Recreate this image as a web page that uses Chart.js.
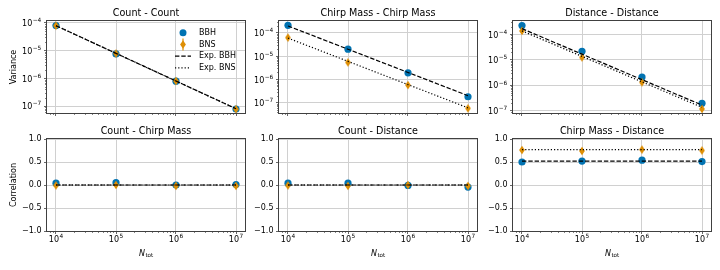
<!DOCTYPE html>
<html><head><meta charset="utf-8">
<script src="https://cdn.jsdelivr.net/npm/chart.js@4"></script>
<style>
html,body{margin:0;padding:0;background:#fff;width:720px;height:270px;overflow:hidden;position:relative}
canvas{position:absolute;display:block}
</style></head><body>
<script>
// ---------------- data ----------------
const N_TOT = [1e4, 1e5, 1e6, 1e7];
const X_TICKS = [1e4, 1e5, 1e6, 1e7];

const PANEL_TITLES = ['Count - Count', 'Chirp Mass - Chirp Mass', 'Distance - Distance',
                      'Count - Chirp Mass', 'Count - Distance', 'Chirp Mass - Distance'];
const LEGEND_LABELS = ['BBH', 'BNS', 'Exp. BBH', 'Exp. BNS'];

// Variance (top row)
const VAR_COUNT_BBH = [8.1e-5, 7.6e-6, 7.9e-7, 7.8e-8];
const VAR_COUNT_BNS = [8.0e-5, 7.9e-6, 8.0e-7, 7.7e-8];
const EXP_VAR_COUNT_BBH = [8.0e-5, 8.0e-6, 8.0e-7, 8.0e-8];
const EXP_VAR_COUNT_BNS = [8.0e-5, 8.0e-6, 8.0e-7, 8.0e-8];

const VAR_MASS_BBH = [2.14e-4, 2.0e-5, 1.93e-6, 1.8e-7];
const VAR_MASS_BNS = [6.3e-5, 5.4e-6, 5.7e-7, 5.7e-8];
const EXP_VAR_MASS_BBH = [2.0e-4, 2.0e-5, 2.0e-6, 2.0e-7];
const EXP_VAR_MASS_BNS = [6.0e-5, 6.0e-6, 6.0e-7, 6.0e-8];

const VAR_DIST_BBH = [2.2e-4, 2.15e-5, 2.08e-6, 1.95e-7];
const VAR_DIST_BNS = [1.35e-4, 1.23e-5, 1.29e-6, 1.17e-7];
const EXP_VAR_DIST_BBH = [1.65e-4, 1.65e-5, 1.65e-6, 1.65e-7];
const EXP_VAR_DIST_BNS = [1.35e-4, 1.35e-5, 1.35e-6, 1.35e-7];

// Correlation (bottom row)
const CORR_COUNT_MASS_BBH = [0.04, 0.05, 0.00, 0.01];
const CORR_COUNT_MASS_BNS = [-0.01, 0.00, -0.02, -0.02];
const EXP_CORR_COUNT_MASS_BBH = [0, 0, 0, 0];
const EXP_CORR_COUNT_MASS_BNS = [0, 0, 0, 0];

const CORR_COUNT_DIST_BBH = [0.04, 0.04, -0.01, -0.045];
const CORR_COUNT_DIST_BNS = [-0.01, -0.02, 0.00, -0.02];
const EXP_CORR_COUNT_DIST_BBH = [0, 0, 0, 0];
const EXP_CORR_COUNT_DIST_BNS = [0, 0, 0, 0];

const CORR_MASS_DIST_BBH = [0.50, 0.52, 0.54, 0.51];
const CORR_MASS_DIST_BNS = [0.76, 0.74, 0.77, 0.75];
const EXP_CORR_MASS_DIST_BBH = [0.52, 0.52, 0.52, 0.52];
const EXP_CORR_MASS_DIST_BNS = [0.77, 0.77, 0.77, 0.77];

const CORR_TICKS = [-1.0, -0.5, 0.0, 0.5, 1.0];

// ---------------- styling / layout ----------------
const FONT = '"DejaVu Sans", "Liberation Sans", sans-serif';
const BLUE = '#0173B2';
const ORANGE = '#DE8F05';
const GRID = '#d0d0d0';
const SPINE = '#404040';

const COL_CANVAS_LEFT = [0, 250, 484];
const COL_CANVAS_W = [250, 234, 236];
const COL_PLOT_LEFT = [47, 279, 513];
const PLOT_W = 198;
const ROW_CANVAS_TOP = [0, 117];
const ROW_CANVAS_H = [117, 153];
const ROW_PLOT_TOP = [21, 139];
const PLOT_H = 92;

function expText(v){
  return String(Math.round(Math.log10(v))).replace('-', '\u2212');
}
function pow10Label(v){ return '10^' + expText(v); }

// draws "10" with a raised exponent (mathtext style)
function drawPow(ctx, v, x, baseline, align){
  const e = expText(v);
  ctx.font = '8px ' + FONT;
  const wb = ctx.measureText('10').width;
  ctx.font = '5.8px ' + FONT;
  const we = ctx.measureText(e).width;
  const total = wb + 0.4 + we;
  const x0 = align === 'right' ? x - total : x - total / 2;
  ctx.textAlign = 'left'; ctx.textBaseline = 'alphabetic';
  ctx.font = '8px ' + FONT;
  ctx.fillText('10', x0, baseline);
  ctx.font = '5.8px ' + FONT;
  ctx.fillText(e, x0 + wb + 0.4, baseline - 3.9);
}

function makeDiamond(withBar){
  const c = document.createElement('canvas');
  c.width = 8; c.height = withBar ? 13 : 10;
  const g = c.getContext('2d');
  const cy = c.height / 2;
  if (withBar){
    g.strokeStyle = ORANGE; g.lineWidth = 1.2;
    g.beginPath(); g.moveTo(4, 0.5); g.lineTo(4, c.height - 0.5); g.stroke();
  }
  g.fillStyle = ORANGE;
  g.beginPath();
  g.moveTo(4, cy - 4.2); g.lineTo(6.9, cy); g.lineTo(4, cy + 4.2); g.lineTo(1.1, cy);
  g.closePath(); g.fill();
  return c;
}
const DIAMOND = makeDiamond(false);

const panels = [
  {row:0, col:0, bbh:VAR_COUNT_BBH, bns:VAR_COUNT_BNS, eb:EXP_VAR_COUNT_BBH, en:EXP_VAR_COUNT_BNS, ymin:5.6e-8, ymax:1.18e-4, ylabel:'Variance', legend:true},
  {row:0, col:1, bbh:VAR_MASS_BBH, bns:VAR_MASS_BNS, eb:EXP_VAR_MASS_BBH, en:EXP_VAR_MASS_BNS, ymin:3.6e-8, ymax:3.27e-4},
  {row:0, col:2, bbh:VAR_DIST_BBH, bns:VAR_DIST_BNS, eb:EXP_VAR_DIST_BBH, en:EXP_VAR_DIST_BNS, ymin:8.1e-8, ymax:3.3e-4},
  {row:1, col:0, bbh:CORR_COUNT_MASS_BBH, bns:CORR_COUNT_MASS_BNS, eb:EXP_CORR_COUNT_MASS_BBH, en:EXP_CORR_COUNT_MASS_BNS, ylabel:'Correlation'},
  {row:1, col:1, bbh:CORR_COUNT_DIST_BBH, bns:CORR_COUNT_DIST_BNS, eb:EXP_CORR_COUNT_DIST_BBH, en:EXP_CORR_COUNT_DIST_BNS},
  {row:1, col:2, bbh:CORR_MASS_DIST_BBH, bns:CORR_MASS_DIST_BNS, eb:EXP_CORR_MASS_DIST_BBH, en:EXP_CORR_MASS_DIST_BNS},
];

function pts(ys){ return N_TOT.map((x, i) => ({x: x, y: ys[i]})); }

const decoPlugin = {
  id: 'deco',
  afterDraw(chart, args, o){
    const p = o.panel;
    const ctx = chart.ctx, a = chart.chartArea;
    ctx.save();
    // minor ticks for log axes
    ctx.strokeStyle = SPINE; ctx.lineWidth = 0.8;
    const xs = chart.scales.x;
    for (let e = 3; e <= 7; e++){
      for (let m = 2; m <= 9; m++){
        const v = m * Math.pow(10, e);
        if (v < xs.min || v > xs.max) continue;
        const px = Math.round(xs.getPixelForValue(v)) + 0.5;
        ctx.beginPath(); ctx.moveTo(px, a.bottom); ctx.lineTo(px, a.bottom + 1.8); ctx.stroke();
      }
    }
    const ys = chart.scales.y;
    if (ys.type === 'logarithmic'){
      for (let e = -9; e <= -3; e++){
        for (let m = 2; m <= 9; m++){
          const v = m * Math.pow(10, e);
          if (v < ys.min || v > ys.max) continue;
          const py = Math.round(ys.getPixelForValue(v)) + 0.5;
          ctx.beginPath(); ctx.moveTo(a.left, py); ctx.lineTo(a.left - 1.8, py); ctx.stroke();
        }
      }
      // y tick labels (powers of ten)
      ctx.fillStyle = '#000';
      ys.ticks.forEach(t => drawPow(ctx, t.value, a.left - 5.8, ys.getPixelForValue(t.value) + 3.3, 'right'));
    }
    // x tick labels on bottom row
    if (p.row === 1){
      ctx.fillStyle = '#000';
      xs.ticks.forEach(t => drawPow(ctx, t.value, xs.getPixelForValue(t.value), a.bottom + 11, 'center'));
    }
    // spines
    ctx.strokeStyle = SPINE; ctx.lineWidth = 1;
    ctx.strokeRect(Math.round(a.left) - 0.5, Math.round(a.top) - 0.5, Math.round(a.width) + 1, Math.round(a.height) + 1);
    // title
    ctx.fillStyle = '#000';
    ctx.font = '9.6px ' + FONT;
    ctx.textAlign = 'center'; ctx.textBaseline = 'alphabetic';
    ctx.fillText(p.title, (a.left + a.right) / 2, a.top - 5);
    // y label
    if (p.ylabel){
      ctx.save();
      ctx.font = '8px ' + FONT;
      ctx.translate(13.5, (a.top + a.bottom) / 2);
      ctx.rotate(-Math.PI / 2);
      ctx.textAlign = 'center'; ctx.textBaseline = 'middle';
      ctx.fillText(p.ylabel, 0, 0);
      ctx.restore();
    }
    // x label N_tot
    if (p.row === 1){
      ctx.textAlign = 'left'; ctx.textBaseline = 'alphabetic';
      ctx.font = 'italic 8px ' + FONT;
      const wN = ctx.measureText('N').width;
      ctx.font = '5.6px ' + FONT;
      const wT = ctx.measureText('tot').width;
      const x0 = (a.left + a.right) / 2 - (wN + wT) / 2;
      const by = a.bottom + 24.5;
      ctx.font = 'italic 8px ' + FONT;
      ctx.fillText('N', x0, by);
      ctx.font = '5.6px ' + FONT;
      ctx.fillText('tot', x0 + wN + 0.3, by + 1.8);
    }
    // legend
    if (p.legend){
      const hx0 = 175, hx1 = 191, hc = 183, tx = 199;
      const rows = [32.8, 44.5, 56.2, 67.9];
      ctx.font = '8px ' + FONT;
      ctx.textAlign = 'left'; ctx.textBaseline = 'middle';
      ctx.fillStyle = BLUE;
      ctx.beginPath(); ctx.arc(hc, rows[0], 3.5, 0, Math.PI * 2); ctx.fill();
      const dimg = makeDiamond(true);
      ctx.drawImage(dimg, hc - dimg.width / 2, rows[1] - dimg.height / 2);
      ctx.strokeStyle = '#000'; ctx.lineWidth = 1.2;
      ctx.setLineDash([4.4, 1.9]);
      ctx.beginPath(); ctx.moveTo(hx0, rows[2]); ctx.lineTo(hx1, rows[2]); ctx.stroke();
      ctx.setLineDash([1.2, 2.0]);
      ctx.beginPath(); ctx.moveTo(hx0, rows[3]); ctx.lineTo(hx1, rows[3]); ctx.stroke();
      ctx.setLineDash([]);
      ctx.fillStyle = '#000';
      LEGEND_LABELS.forEach((t, i) => ctx.fillText(t, tx, rows[i]));
    }
    ctx.restore();
  }
};

Chart.defaults.font.family = FONT;
Chart.defaults.font.size = 8;
Chart.defaults.color = '#000';

panels.forEach((p, idx) => {
  p.title = PANEL_TITLES[idx];
  const cv = document.createElement('canvas');
  const cl = COL_CANVAS_LEFT[p.col], cw = COL_CANVAS_W[p.col];
  const ct = ROW_CANVAS_TOP[p.row], ch = ROW_CANVAS_H[p.row];
  cv.width = cw; cv.height = ch;
  cv.style.left = cl + 'px'; cv.style.top = ct + 'px';
  cv.style.width = cw + 'px'; cv.style.height = ch + 'px';
  document.body.appendChild(cv);

  const yAxisW = COL_PLOT_LEFT[p.col] - cl;
  const padTop = ROW_PLOT_TOP[p.row] - ct;
  const padRight = cw - yAxisW - PLOT_W;
  const xAxisH = ch - padTop - PLOT_H;
  const isLog = p.row === 0;

  const yScale = isLog ? {
    type: 'logarithmic', min: p.ymin, max: p.ymax,
    afterBuildTicks(s){
      const t = [];
      for (let e = Math.ceil(Math.log10(s.min) - 1e-9); e <= Math.floor(Math.log10(s.max) + 1e-9); e++) t.push({value: Math.pow(10, e), major: true});
      s.ticks = t;
    },
    ticks: {display: false, autoSkip: false, callback: v => pow10Label(v)},
  } : {
    type: 'linear', min: -1, max: 1,
    afterBuildTicks(s){ s.ticks = CORR_TICKS.map(v => ({value: v})); },
    ticks: {autoSkip: false, padding: 2.5, callback: v => v.toFixed(1).replace('-', '\u2212'), font: {size: 8}},
  };
  Object.assign(yScale, {
    position: 'left',
    grid: {color: GRID, lineWidth: 1, tickColor: SPINE, tickLength: 3, tickWidth: 0.8},
    border: {display: false},
    afterFit(s){ s.width = yAxisW; s.paddingTop = 0; s.paddingBottom = 0; },
  });

  new Chart(cv, {
    type: 'scatter',
    data: {
      datasets: [
        {type: 'line', label: LEGEND_LABELS[2], data: pts(p.eb), borderColor: '#000', borderWidth: 1.2,
         borderDash: [4.4, 1.9], pointRadius: 0, fill: false, tension: 0, order: 0},
        {type: 'line', label: LEGEND_LABELS[3], data: pts(p.en), borderColor: '#000', borderWidth: 1.2,
         borderDash: [1.2, 2.0], pointRadius: 0, fill: false, tension: 0, order: 0},
        {type: 'scatter', label: LEGEND_LABELS[1], data: pts(p.bns), pointStyle: DIAMOND, pointRadius: 4,
         backgroundColor: ORANGE, borderWidth: 0, order: 1},
        {type: 'scatter', label: LEGEND_LABELS[0], data: pts(p.bbh), pointStyle: 'circle', pointRadius: 3.6,
         backgroundColor: BLUE, borderColor: BLUE, borderWidth: 0, order: 2},
      ]
    },
    options: {
      responsive: false, animation: false, devicePixelRatio: 1, events: [],
      layout: {padding: {top: padTop, right: padRight, left: 0, bottom: 0}},
      plugins: {legend: {display: false}, tooltip: {enabled: false}, title: {display: false},
                deco: {panel: p}},
      scales: {
        x: {
          type: 'logarithmic', position: 'bottom',
          min: Math.pow(10, 4 - 0.15), max: Math.pow(10, 7 + 0.15),
          afterBuildTicks(s){ s.ticks = X_TICKS.map(v => ({value: v, major: true})); },
          ticks: {display: false, autoSkip: false, maxRotation: 0, callback: v => pow10Label(v)},
          grid: {color: GRID, lineWidth: 1, tickColor: SPINE, tickLength: 3, tickWidth: 0.8},
          border: {display: false},
          afterFit(s){ s.height = xAxisH; s.paddingLeft = 0; s.paddingRight = 0; },
        },
        y: yScale,
      }
    },
    plugins: [decoPlugin]
  });
});
</script>
</body></html>
